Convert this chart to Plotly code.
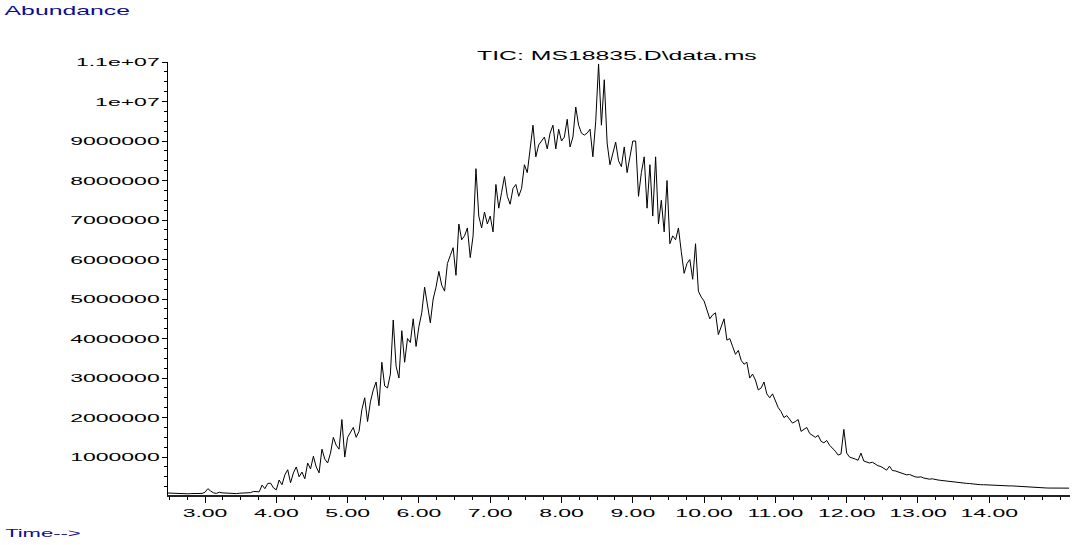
import numpy as np
import plotly.graph_objects as go

# Total ion chromatogram, one abundance reading per scan
SCAN_START_MIN = 2.48
SCAN_INTERVAL_MIN = 0.04

abundance = [
    # 2.48 - 3.24 min
    90000, 85000, 80000, 75000, 70000, 72000, 68000, 70000, 75000, 78000,
    72000, 70000, 80000, 110000, 200000, 140000, 95000, 80000, 110000, 95000,
    # 3.28 - 3.96 min
    90000, 85000, 95000, 80000, 75000, 85000, 90000, 80000, 85000, 100000,
    130000, 120000, 120000, 290000, 200000, 330000, 340000, 220000,
    # 4.00 - 4.88 min
    170000, 420000, 300000, 550000, 680000, 350000, 600000, 750000, 500000, 620000,
    450000, 850000, 700000, 1020000, 750000, 600000, 1200000, 950000, 850000, 1100000,
    1500000, 1300000, 1200000,
    # 4.92 - 5.76 min
    1950000, 1000000, 1500000, 1620000, 1750000, 1500000, 1650000, 2200000, 2500000, 1900000,
    2400000, 2700000, 2900000, 2300000, 3400000, 2800000, 2750000, 3100000, 4470000, 3300000,
    3000000, 4200000,
    # 5.80 - 6.76 min
    3400000, 4000000, 3900000, 4500000, 3800000, 4300000, 4650000, 5300000, 4900000, 4400000,
    5000000, 5300000, 5700000, 5350000, 5200000, 5900000, 6100000, 6300000, 5600000, 6900000,
    6500000, 6600000, 6800000, 6050000, 6600000,
    # 6.80 - 7.68 min
    8300000, 7100000, 6800000, 7200000, 6900000, 7100000, 6700000, 7900000, 7300000, 7700000,
    8100000, 7600000, 7400000, 7800000, 7900000, 7600000, 7800000, 8400000, 8200000, 8800000,
    9400000, 8600000, 8900000,
    # 7.72 - 8.68 min
    9000000, 9100000, 8800000, 9200000, 9400000, 8800000, 9300000, 9000000, 9100000, 9550000,
    8850000, 9100000, 9860000, 9400000, 9200000, 9150000, 9200000, 9300000, 8600000, 9500000,
    10950000, 9400000, 10550000, 8950000, 8400000,
    # 8.72 - 9.92 min
    8700000, 8970000, 8500000, 8350000, 8850000, 8200000, 8600000, 9000000, 9000000, 7600000,
    8200000, 8600000, 7300000, 8400000, 7100000, 8600000, 6900000, 7500000, 6700000, 8000000,
    6400000, 6600000, 6500000, 6800000, 6200000, 5650000, 5900000, 6000000, 5500000, 6400000,
    5200000,
    # 9.96 - 10.88 min
    5050000, 4950000, 4700000, 4500000, 4600000, 4650000, 4100000, 4300000, 4500000, 3960000,
    4000000, 3800000, 3600000, 3700000, 3450000, 3350000, 3400000, 3000000, 3100000, 2950000,
    2700000, 2750000, 2900000, 2600000,
    # 10.92 - 12.08 min
    2500000, 2600000, 2400000, 2250000, 2150000, 2000000, 2050000, 1950000, 1860000, 1900000,
    1950000, 1650000, 1700000, 1750000, 1600000, 1550000, 1500000, 1550000, 1400000, 1360000,
    1420000, 1300000, 1230000, 1150000, 1050000, 1080000, 1700000, 1100000, 1000000, 980000,
    # 12.12 - 13.28 min
    950000, 920000, 1100000, 900000, 880000, 850000, 870000, 820000, 780000, 760000,
    720000, 670000, 770000, 660000, 650000, 620000, 600000, 580000, 550000, 560000,
    520000, 500000, 490000, 500000, 470000, 460000, 440000, 450000, 430000, 420000,
    # 13.32 - 15.12 min
    410000, 400000, 390000, 380000, 370000, 360000, 355000, 350000, 340000, 335000,
    330000, 320000, 315000, 310000, 300000, 300000, 295000, 290000, 290000, 285000,
    280000, 285000, 280000, 275000, 270000, 270000, 265000, 265000, 260000, 255000,
    245000, 235000, 225000, 220000, 220000, 220000, 218000, 218000, 216000, 216000,
    215000, 215000, 215000, 214000, 214000, 214000,
]

scan_time = SCAN_START_MIN + SCAN_INTERVAL_MIN * np.arange(len(abundance))

time_ticks = [3, 4, 5, 6, 7, 8, 9, 10, 11, 12, 13, 14]
time_labels = ["3.00", "4.00", "5.00", "6.00", "7.00", "8.00", "9.00",
               "10.00", "11.00", "12.00", "13.00", "14.00"]
abund_ticks = [1000000, 2000000, 3000000, 4000000, 5000000, 6000000,
               7000000, 8000000, 9000000, 10000000, 11000000]
abund_labels = ["1000000", "2000000", "3000000", "4000000", "5000000", "6000000",
                "7000000", "8000000", "9000000", "1e+07", "1.1e+07"]

title_text = r"TIC: MS18835.D\data.ms"
ylabel_text = "Abundance"
xlabel_text = "Time-->"

FONT = "Liberation Sans, Arial, Helvetica, sans-serif"
LABEL_BLUE = "#0c0c94"

fig = go.Figure()
fig.add_trace(go.Scatter(
    x=scan_time, y=abundance, mode="lines",
    line=dict(color="black", width=1),
    hoverinfo="skip", showlegend=False,
))

fig.update_layout(
    width=1072, height=545, autosize=False,
    margin=dict(l=168, r=2, t=62, b=50),
    paper_bgcolor="white", plot_bgcolor="white",
    font=dict(family=FONT, size=11.5, color="black"),
    showlegend=False,
    xaxis=dict(
        range=[2.481, 15.132],
        tickmode="array", tickvals=time_ticks, ticktext=time_labels,
        ticks="outside", ticklen=6, tickwidth=1, tickcolor="black",
        showline=True, linecolor="#222", linewidth=1.5,
        showgrid=False, zeroline=False,
        tickfont=dict(family=FONT, size=11.5, color="black"),
        minor=dict(tickmode="linear", tick0=0, dtick=0.25, ticks="outside",
                   ticklen=3, tickwidth=1, tickcolor="black", showgrid=False),
    ),
    yaxis=dict(
        range=[40000, 11000000],
        tickmode="array", tickvals=abund_ticks, ticktext=abund_labels,
        ticks="outside", ticklen=5, tickwidth=1, tickcolor="black",
        showline=True, linecolor="black", linewidth=1,
        showgrid=False, zeroline=False,
        tickfont=dict(family=FONT, size=11.5, color="black"),
        minor=dict(tickmode="linear", tick0=0, dtick=250000, ticks="outside",
                   ticklen=3, tickwidth=1, tickcolor="black", showgrid=False),
    ),
    annotations=[
        dict(text=title_text, xref="paper", yref="paper",
             x=0.4977, y=1.015, xanchor="center", yanchor="middle",
             showarrow=False, font=dict(family=FONT, size=12.4, color="black")),
        dict(text=ylabel_text, xref="paper", yref="paper",
             x=-0.1114, y=1.1178, xanchor="center", yanchor="middle",
             showarrow=False, font=dict(family=FONT, size=12.4, color=LABEL_BLUE)),
        dict(text=xlabel_text, xref="paper", yref="paper",
             x=-0.139, y=-0.0878, xanchor="center", yanchor="middle",
             showarrow=False, font=dict(family=FONT, size=11, color=LABEL_BLUE)),
    ],
)

# The instrument printout uses wide, flat lettering: widen every text
# element horizontally about its own anchor point.
widen_text = """
document.body.style.margin = '0';
var gd = document.getElementById('{plot_id}');
gd.querySelectorAll('svg text').forEach(function (t) {
  var bb = t.getBBox();
  if (!bb.width) { return; }
  var anchor = t.getAttribute('text-anchor') || 'start';
  var cx = anchor === 'end' ? bb.x + bb.width
         : anchor === 'middle' ? bb.x + bb.width / 2 : bb.x;
  var tr = t.getAttribute('transform') || '';
  t.setAttribute('transform', tr + ' translate(' + cx + ',0) scale(2,1) translate(' + (-cx) + ',0)');
});
"""

fig.write_html("out.html", config={"displayModeBar": False}, post_script=widen_text)
